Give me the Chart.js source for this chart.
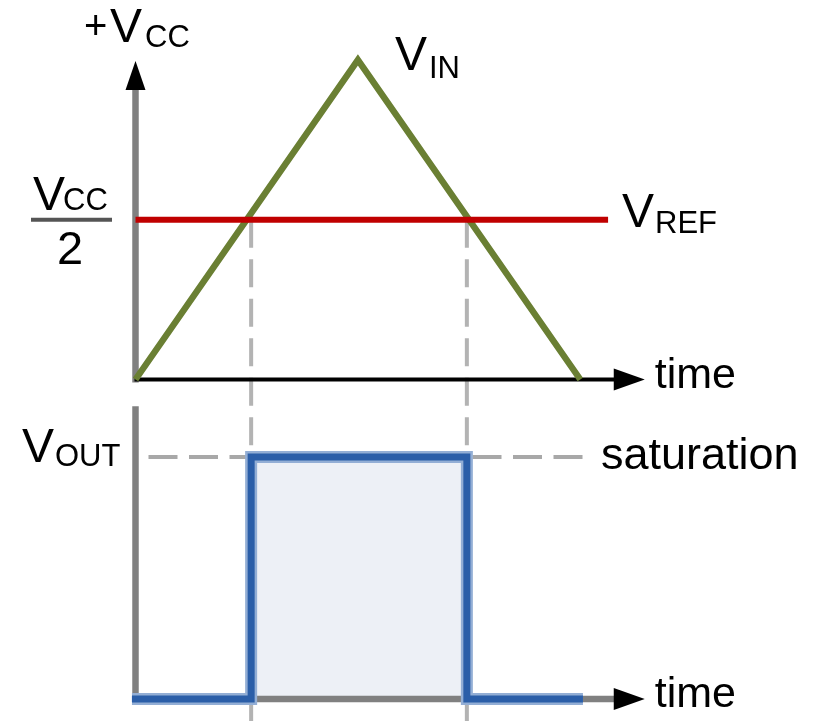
<!DOCTYPE html>
<html>
<head>
<meta charset="utf-8">
<script src="https://cdn.jsdelivr.net/npm/chart.js@4.4.1/dist/chart.umd.min.js"></script>
<style>
  html, body { margin: 0; padding: 0; background: #fff; }
</style>
</head>
<body>
<canvas id="comparator" width="826" height="721"></canvas>
<script>
// levels (normalised to Vcc) and times (one unit = time to reach the peak)
const VCC = 1;
const VREF = VCC / 2;
const SATURATION = 1;

const vinTime = [0, 1, 2];
const vinLevel = [0, 1, 0];

const vrefTime = [0, 2.125];
const vrefLevel = [VREF, VREF];

const voutTime = [-0.016, 0.52, 0.52, 1.49, 1.49, 2.012];
const voutLevel = [0, 0, 1, 1, 0, 0];

const crossTimes = [0.52, 1.49];
const saturationEnd = 2.012;
const axisEnd = 2.29;

const pts = (xs, ys) => xs.map((t, i) => ({ x: t, y: ys[i] }));

const FONT = '"Liberation Sans", Arial, sans-serif';

function seg(ctx, x1, y1, x2, y2) {
  ctx.beginPath();
  ctx.moveTo(x1, y1);
  ctx.lineTo(x2, y2);
  ctx.stroke();
}

function txt(ctx, s, px, py, size, align) {
  ctx.font = size + 'px ' + FONT;
  ctx.textAlign = align || 'left';
  ctx.textBaseline = 'alphabetic';
  ctx.fillText(s, px, py);
}

const diagram = {
  id: 'diagram',
  beforeDatasetsDraw(chart) {
    const { ctx, scales: { x, yIn, yOut } } = chart;
    const x0 = x.getPixelForValue(0);
    const xTip = x.getPixelForValue(axisEnd);
    const inZero = yIn.getPixelForValue(0);
    const inTop = yIn.getPixelForValue(VCC);
    const ref = yIn.getPixelForValue(VREF);
    const outZero = yOut.getPixelForValue(0);
    const sat = yOut.getPixelForValue(SATURATION);
    const outTop = yOut.getPixelForValue(1.21);

    ctx.save();
    ctx.lineCap = 'butt';

    // dashed guides from the crossings
    ctx.setLineDash([28, 11.5]);
    ctx.lineDashOffset = 0;
    ctx.strokeStyle = '#b3b3b3';
    ctx.lineWidth = 4;
    crossTimes.forEach(t => {
      const px = x.getPixelForValue(t);
      seg(ctx, px, ref, px, chart.height);
    });

    // saturation level
    ctx.setLineDash([29, 11.5]);
    ctx.lineDashOffset = 29;
    ctx.strokeStyle = '#a8a8a8';
    seg(ctx, x0 + 1.5, sat, x.getPixelForValue(saturationEnd), sat);
    ctx.setLineDash([]);

    // top axes
    ctx.strokeStyle = '#808080';
    ctx.lineWidth = 6.5;
    seg(ctx, x0, inZero + 3, x0, inTop + 26);
    ctx.strokeStyle = '#000';
    ctx.lineWidth = 4;
    seg(ctx, x0 - 1, inZero, xTip - 28, inZero);

    // bottom axes
    ctx.strokeStyle = '#808080';
    ctx.lineWidth = 6.5;
    seg(ctx, x0, outTop, x0, outZero + 3);
    seg(ctx, x0, outZero, xTip - 28, outZero);

    // arrow heads
    ctx.fillStyle = '#000';
    const up = (px, py) => {
      ctx.beginPath();
      ctx.moveTo(px, py);
      ctx.lineTo(px + 10, py + 29);
      ctx.lineTo(px - 10, py + 29);
      ctx.closePath();
      ctx.fill();
    };
    const right = (px, py) => {
      ctx.beginPath();
      ctx.moveTo(px, py);
      ctx.lineTo(px - 31, py - 11);
      ctx.lineTo(px - 31, py + 11);
      ctx.closePath();
      ctx.fill();
    };
    up(x0, inTop + 1);
    right(xTip, inZero);
    right(xTip, outZero);
    ctx.restore();
  },
  afterDatasetsDraw(chart) {
    const { ctx, scales: { x, yIn, yOut } } = chart;
    const ref = yIn.getPixelForValue(VREF);
    const inZero = yIn.getPixelForValue(0);
    const outZero = yOut.getPixelForValue(0);
    const sat = yOut.getPixelForValue(SATURATION);
    const tx = x.getPixelForValue(axisEnd) + 10;

    ctx.save();
    ctx.fillStyle = '#000';

    // +Vcc
    txt(ctx, '+', 84, 39, 40);
    txt(ctx, 'V', 110, 42, 48);
    txt(ctx, 'CC', 145, 47, 31);

    // Vcc / 2
    txt(ctx, 'V', 33, ref - 10, 48);
    txt(ctx, 'CC', 63, ref - 10, 31);
    ctx.strokeStyle = '#555';
    ctx.lineWidth = 4;
    seg(ctx, 31, ref, 112, ref);
    txt(ctx, '2', 70, ref + 44, 47, 'center');

    // VIN
    txt(ctx, 'V', 395, 70, 48);
    txt(ctx, 'IN', 429, 78, 31);

    // VREF
    txt(ctx, 'V', 622, ref + 7, 48);
    txt(ctx, 'REF', 655, ref + 13, 31);

    // VOUT
    txt(ctx, 'V', 22, sat + 5, 48);
    txt(ctx, 'OUT', 55, sat + 9, 31);

    txt(ctx, 'saturation', 601, sat + 12, 45);
    txt(ctx, 'time', tx, inZero + 8, 43);
    txt(ctx, 'time', tx, outZero + 8, 43);
    ctx.restore();
  }
};

// datasets are listed top-most first (Chart.js paints the last one first)
new Chart(document.getElementById('comparator'), {
  type: 'line',
  data: {
    datasets: [
      {
        label: 'VREF',
        data: pts(vrefTime, vrefLevel),
        yAxisID: 'yIn',
        borderColor: '#c00000',
        borderWidth: 6,
        pointRadius: 0,
        fill: false,
        clip: false
      },
      {
        label: 'VIN',
        data: pts(vinTime, vinLevel),
        yAxisID: 'yIn',
        borderColor: '#6a7f33',
        borderWidth: 6.5,
        borderJoinStyle: 'miter',
        pointRadius: 0,
        fill: false,
        clip: false
      },
      {
        label: 'VOUT',
        data: pts(voutTime, voutLevel),
        yAxisID: 'yOut',
        borderColor: '#2b5ea8',
        borderWidth: 7,
        borderJoinStyle: 'miter',
        pointRadius: 0,
        fill: false,
        clip: false
      },
      {
        label: 'VOUT halo',
        data: pts(voutTime, voutLevel),
        yAxisID: 'yOut',
        borderColor: '#93aed5',
        backgroundColor: '#edf0f6',
        borderWidth: 12,
        borderJoinStyle: 'miter',
        pointRadius: 0,
        fill: 'origin',
        clip: false
      }
    ]
  },
  options: {
    responsive: false,
    devicePixelRatio: 1,
    animation: false,
    layout: { padding: { left: 135.5, right: 179, top: 60, bottom: 22 } },
    scales: {
      x: { type: 'linear', min: 0, max: 2.3, display: false },
      yIn: { type: 'linear', min: -1, max: 1, display: false },
      yOut: { type: 'linear', min: 0, max: 2.64, display: false }
    },
    plugins: {
      legend: { display: false },
      tooltip: { enabled: false },
      filler: { drawTime: 'beforeDatasetsDraw' }
    }
  },
  plugins: [diagram]
});
</script>
</body>
</html>
